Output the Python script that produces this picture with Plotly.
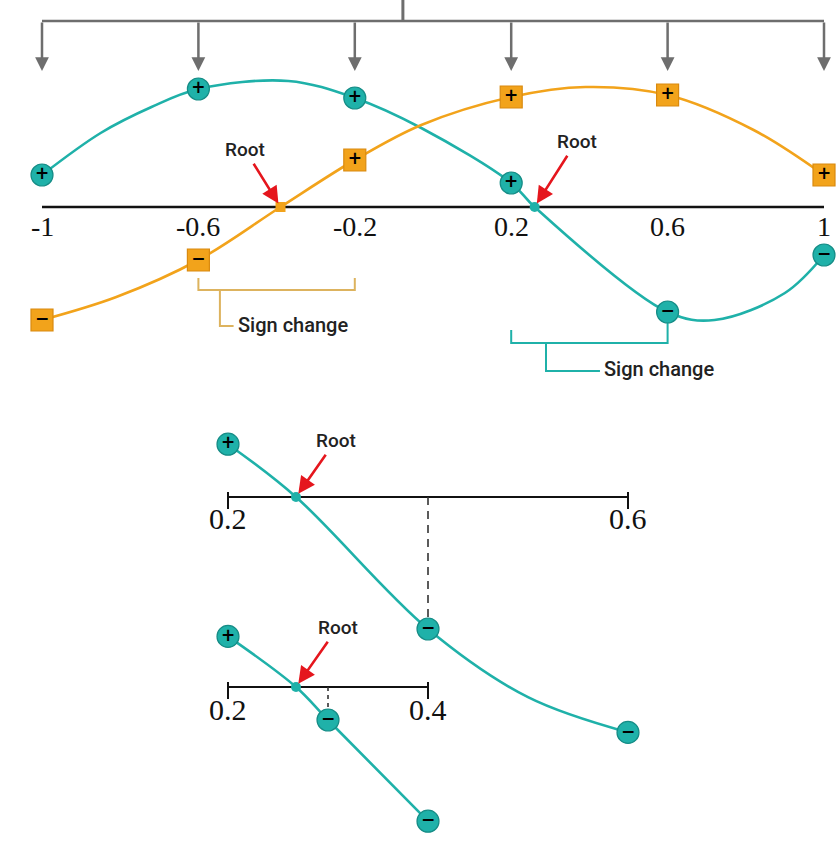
import plotly.graph_objects as go

# ---------------- data ----------------
tick_vals = [-1, -0.6, -0.2, 0.2, 0.6, 1]
tick_labels = ["-1", "-0.6", "-0.2", "0.2", "0.6", "1"]

teal_pts_x = [-1, -0.6, -0.2, 0.2, 0.6, 1]
teal_pts_y = [0.32, 1.18, 1.09, 0.24, -1.05, -0.48]
teal_signs = ["+", "+", "+", "+", "−", "−"]
teal_curve_x = [-1, -0.85, -0.72, -0.6, -0.37, -0.2, -0.03, 0.2, 0.26, 0.6, 0.72, 0.9, 1]
teal_curve_y = [0.32, 0.74, 1.00, 1.18, 1.26, 1.09, 0.79, 0.24, 0.0, -1.05, -1.13, -0.86, -0.48]
teal_root = 0.26
teal_sign_change = [0.2, 0.6]

orange_pts_x = [-1, -0.6, -0.2, 0.2, 0.6, 1]
orange_pts_y = [-1.13, -0.53, 0.47, 1.10, 1.12, 0.32]
orange_signs = ["−", "−", "+", "+", "+", "+"]
orange_curve_x = [-1, -0.81, -0.6, -0.39, -0.2, -0.03, 0.2, 0.39, 0.6, 0.82, 1]
orange_curve_y = [-1.13, -0.90, -0.53, 0.0, 0.47, 0.82, 1.10, 1.20, 1.12, 0.77, 0.32]
orange_root = -0.39
orange_sign_change = [-0.6, -0.2]

# first refinement of [0.2, 0.6]
ref1_ticks = [0.2, 0.6]
ref1_tick_labels = ["0.2", "0.6"]
ref1_mid = 0.4
ref1_pts_x = [0.2, 0.4, 0.6]
ref1_pts_y = [0.24, -0.60, -1.07]
ref1_signs = ["+", "−", "−"]
ref1_curve_x = [0.2, 0.268, 0.4, 0.5, 0.6]
ref1_curve_y = [0.24, 0.0, -0.60, -0.91, -1.07]
ref1_root = 0.268

# second refinement of [0.2, 0.4]
ref2_ticks = [0.2, 0.4]
ref2_tick_labels = ["0.2", "0.4"]
ref2_mid = 0.3
ref2_pts_x = [0.2, 0.3, 0.4]
ref2_pts_y = [0.23, -0.15, -0.61]
ref2_signs = ["+", "−", "−"]
ref2_curve_x = [0.2, 0.268, 0.3, 0.4]
ref2_curve_y = [0.23, 0.0, -0.15, -0.61]
ref2_root = 0.268

# ---------------- styles / layout ----------------
W, H = 838, 841
TEAL = "#1FB1A9"
TEAL_EDGE = "#168C86"
ORANGE = "#F2A31B"
ORANGE_EDGE = "#D98A10"
ORANGE_BRACKET = "#DDB35E"
GRAY = "#6E6E6E"
RED = "#E5161D"
TXT = "#222222"
SERIF = "Liberation Serif, DejaVu Serif, serif"
NARROW = "Liberation Sans Narrow, Roboto, Liberation Sans, sans-serif"

# pixel mapping of each panel: (px of x=0, px per x-unit, py of y=0, px per y-unit)
panels = {
    "": (433, 391, 207, 100),
    "2": (28, 1000, 497, 220),
    "3": (28, 1000, 687, 220),
}

fig = go.Figure()
axes = {}
for k, (x0, xs, y0, ys) in panels.items():
    axes["xaxis" + k] = dict(domain=[0, 1], range=[-x0 / xs, (W - x0) / xs],
                             visible=False, fixedrange=True, anchor="y" + k)
    axes["yaxis" + k] = dict(domain=[0, 1], range=[(y0 - H) / ys, y0 / ys],
                             visible=False, fixedrange=True, anchor="x" + k)

shapes = []
annotations = []


def line(k, xa, ya, xb, yb, color, width=2, dash=None, layer="below"):
    d = dict(type="line", xref="x" + k, yref="y" + k, x0=xa, y0=ya, x1=xb, y1=yb,
             line=dict(color=color, width=width), layer=layer)
    if dash:
        d["line"]["dash"] = dash
    shapes.append(d)


def curve(k, xs_, ys_, color):
    fig.add_trace(go.Scatter(x=xs_, y=ys_, mode="lines",
                             line=dict(color=color, width=2.6, shape="spline", smoothing=1.0),
                             xaxis="x" + k, yaxis="y" + k, hoverinfo="skip",
                             showlegend=False, cliponaxis=False))


def sign_markers(k, xs_, ys_, signs, symbol, color, edge):
    fig.add_trace(go.Scatter(x=xs_, y=ys_, mode="markers+text", text=signs,
                             textposition="middle center",
                             textfont=dict(size=17, color="black", family="DejaVu Sans", weight="bold"),
                             marker=dict(symbol=symbol, size=22, color=color,
                                         line=dict(color=edge, width=1.2)),
                             xaxis="x" + k, yaxis="y" + k, hoverinfo="skip",
                             showlegend=False, cliponaxis=False))


def root_marker(k, xr, symbol, color):
    fig.add_trace(go.Scatter(x=[xr], y=[0], mode="markers",
                             marker=dict(symbol=symbol, size=10, color=color),
                             xaxis="x" + k, yaxis="y" + k, hoverinfo="skip",
                             showlegend=False, cliponaxis=False))


def root_label(k, xr, ax, ay):
    annotations.append(dict(x=xr, y=0, xref="x" + k, yref="y" + k, text="Root",
                            showarrow=True, ax=ax, ay=ay, arrowcolor=RED,
                            arrowhead=2, arrowsize=1.3, arrowwidth=2.6, standoff=4,
                            startstandoff=2,
                            font=dict(family=NARROW, size=19, color=TXT, weight=500)))


def tick_label(k, x, text, shift, size):
    annotations.append(dict(x=x, y=0, xref="x" + k, yref="y" + k, text=text,
                            showarrow=False, yshift=shift, yanchor="middle",
                            font=dict(family=SERIF, size=size, color="#111111")))


# ---------- top panel ----------
# distribution bracket with down arrows at every sample point
bracket_y = 1.86
bracket_top = 2.2
bracket_stem_x = -0.077
arrow_tip_y = 1.36
line("", tick_vals[0], bracket_y, tick_vals[-1], bracket_y, GRAY, 2.5)
line("", bracket_stem_x, bracket_y, bracket_stem_x, bracket_top, GRAY, 3)
for t in tick_vals:
    annotations.append(dict(x=t, y=arrow_tip_y, ax=t, ay=bracket_y, xref="x", yref="y",
                            axref="x", ayref="y", text="", showarrow=True,
                            arrowcolor=GRAY, arrowhead=2, arrowsize=1.1, arrowwidth=2.5))

# axis line
line("", tick_vals[0], 0, tick_vals[-1], 0, "#111111", 2.5)
for t, lab in zip(tick_vals, tick_labels):
    tick_label("", t, lab, -19, 28)

# sign change brackets
a, b = orange_sign_change
shapes.append(dict(type="path", xref="x", yref="y", layer="below",
                   path=f"M{a},-0.71 L{a},-0.83 L{b},-0.83 L{b},-0.71 "
                        f"M-0.545,-0.83 L-0.545,-1.19 L-0.51,-1.19",
                   line=dict(color=ORANGE_BRACKET, width=2)))
annotations.append(dict(x=-0.505, y=-1.18, xref="x", yref="y", text="Sign change",
                        showarrow=False, xanchor="left", yanchor="middle",
                        font=dict(family=NARROW, size=20, color=TXT, weight=500)))
a, b = teal_sign_change
shapes.append(dict(type="path", xref="x", yref="y", layer="below",
                   path=f"M{a},-1.23 L{a},-1.36 L{b},-1.36 L{b},-1.05 "
                        f"M0.289,-1.36 L0.289,-1.64 L0.427,-1.64",
                   line=dict(color=TEAL, width=2)))
annotations.append(dict(x=0.433, y=-1.62, xref="x", yref="y", text="Sign change",
                        showarrow=False, xanchor="left", yanchor="middle",
                        font=dict(family=NARROW, size=20, color=TXT, weight=500)))

curve("", teal_curve_x, teal_curve_y, TEAL)
curve("", orange_curve_x, orange_curve_y, ORANGE)
sign_markers("", teal_pts_x, teal_pts_y, teal_signs, "circle", TEAL, TEAL_EDGE)
sign_markers("", orange_pts_x, orange_pts_y, orange_signs, "square", ORANGE, ORANGE_EDGE)
root_marker("", orange_root, "square", ORANGE)
root_marker("", teal_root, "circle", TEAL)
root_label("", orange_root, -36, -58)
root_label("", teal_root, 42, -66)

# ---------- first refinement ----------
line("2", ref1_ticks[0], 0, ref1_ticks[-1], 0, "#111111", 2)
for t in ref1_ticks:
    shapes.append(dict(type="line", xref="x2", yref="y2", ysizemode="pixel", yanchor=0,
                       x0=t, x1=t, y0=-12, y1=5, line=dict(color="#111111", width=2)))
line("2", ref1_mid, 0, ref1_mid, ref1_pts_y[1], "#333333", 1.6, dash="8px,6px")
for t, lab in zip(ref1_ticks, ref1_tick_labels):
    tick_label("2", t, lab, -21, 30)
curve("2", ref1_curve_x, ref1_curve_y, TEAL)
sign_markers("2", ref1_pts_x, ref1_pts_y, ref1_signs, "circle", TEAL, TEAL_EDGE)
root_marker("2", ref1_root, "circle", TEAL)
root_label("2", ref1_root, 40, -57)

# ---------- second refinement ----------
line("3", ref2_ticks[0], 0, ref2_ticks[-1], 0, "#111111", 2)
for t in ref2_ticks:
    shapes.append(dict(type="line", xref="x3", yref="y3", ysizemode="pixel", yanchor=0,
                       x0=t, x1=t, y0=-12, y1=5, line=dict(color="#111111", width=2)))
line("3", ref2_mid, 0, ref2_mid, ref2_pts_y[1], "#333333", 1.6, dash="4px,4px")
for t, lab in zip(ref2_ticks, ref2_tick_labels):
    tick_label("3", t, lab, -22, 30)
curve("3", ref2_curve_x, ref2_curve_y, TEAL)
sign_markers("3", ref2_pts_x, ref2_pts_y, ref2_signs, "circle", TEAL, TEAL_EDGE)
root_marker("3", ref2_root, "circle", TEAL)
root_label("3", ref2_root, 42, -60)

fig.update_layout(width=W, height=H, margin=dict(l=0, r=0, t=0, b=0),
                  paper_bgcolor="white", plot_bgcolor="rgba(0,0,0,0)",
                  showlegend=False, shapes=shapes, annotations=annotations, **axes)

fig.write_html("out.html", config={"displayModeBar": False},
               post_script="document.body.style.margin='0';document.body.style.overflow='hidden';")
